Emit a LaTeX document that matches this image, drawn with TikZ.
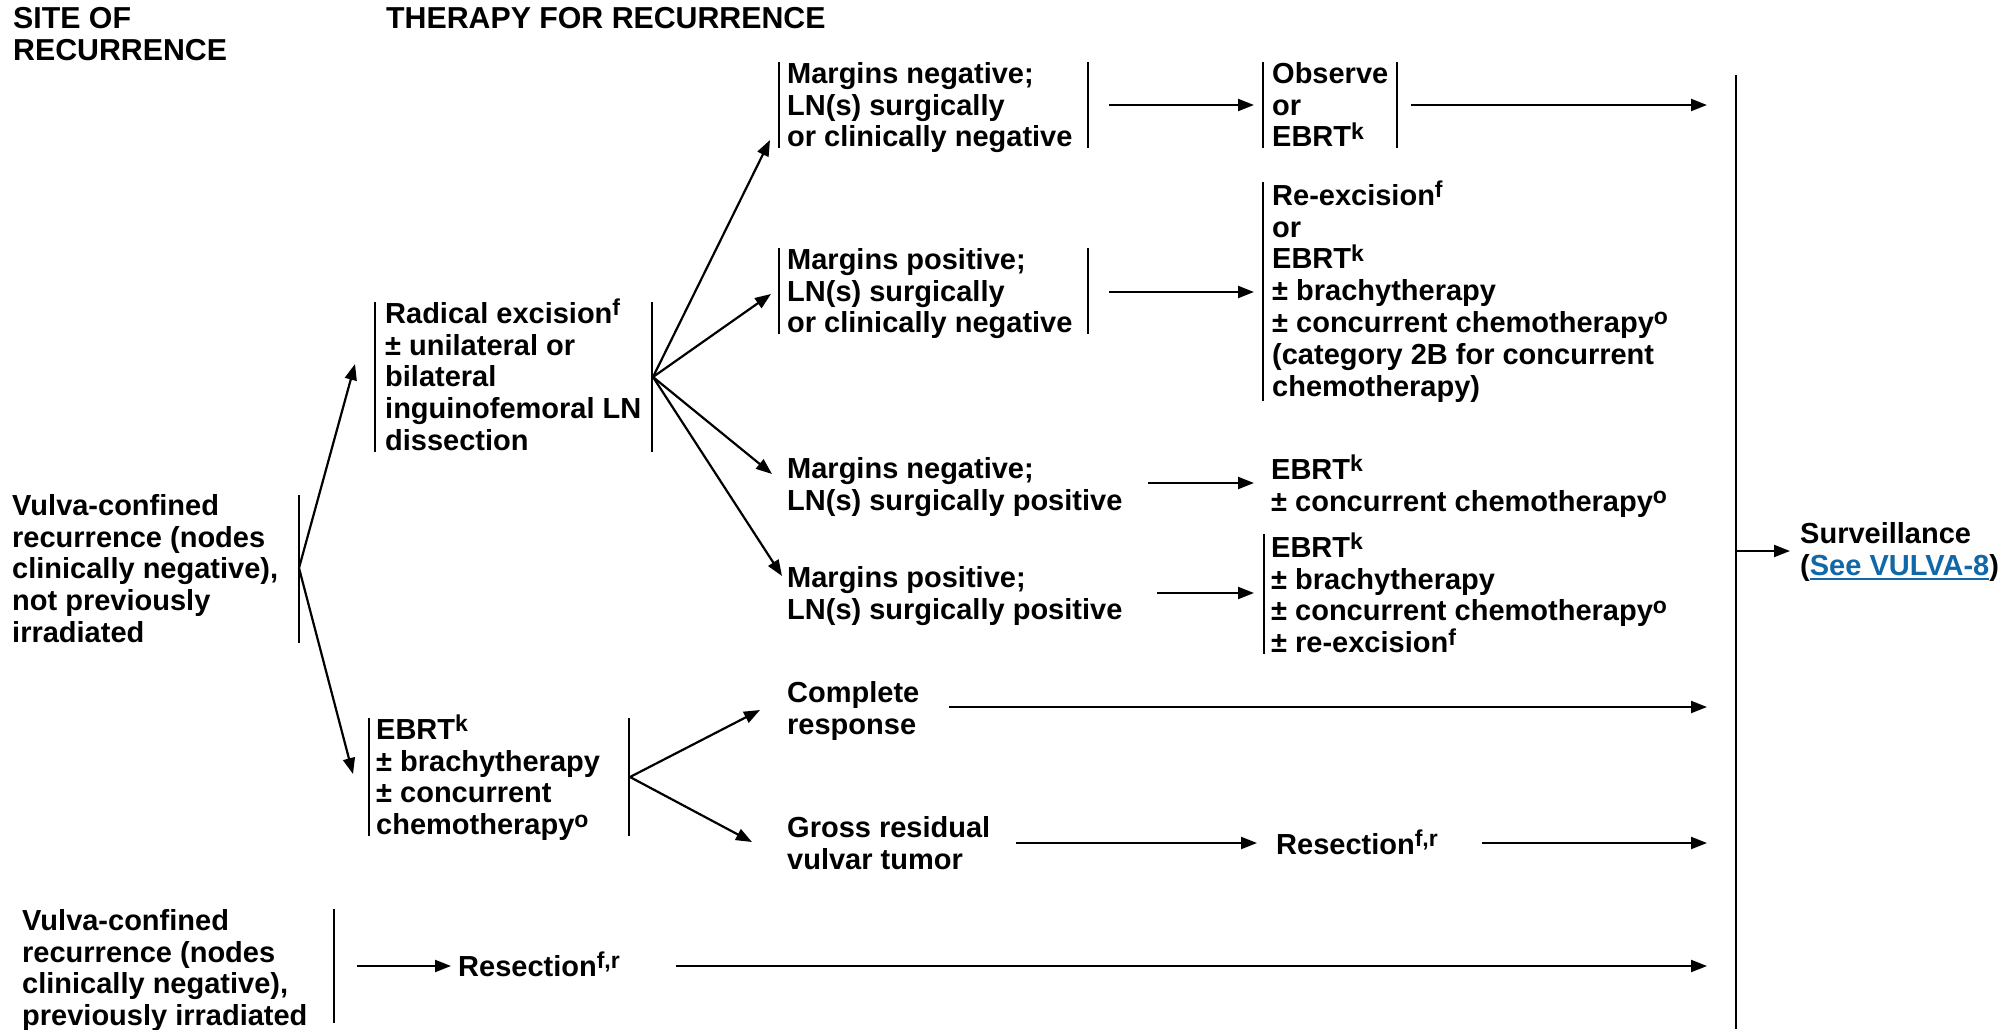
\documentclass[tikz,border=0pt]{standalone}
\usepackage{fontspec}
\setmainfont{Liberation Sans}
\usetikzlibrary{arrows.meta}
\definecolor{linkblue}{RGB}{16,104,168}
% footnote letters set as small raised text
\newcommand\sps[1]{\raisebox{7.5pt}{\fontsize{23}{23}\selectfont #1}}
% fixed height of the first line so every box starts at the same cap line
\newcommand\tstrut{\rule{0pt}{25pt}}
% underlined cross reference
\newcommand\linkul[1]{{\color{linkblue}\setbox0\hbox{#1}\rlap{\rule[-5pt]{\wd0}{2pt}}\box0}}

\begin{document}
\begin{tikzpicture}[x=1pt,y=-1pt,
  txt/.style={anchor=north west, inner sep=0pt, align=left,
              font=\fontsize{29}{31.8}\selectfont\bfseries},
  head/.style={anchor=north west, inner sep=0pt, align=left,
              font=\fontsize{30.3}{32}\selectfont\bfseries},
  brk/.style={line width=2.2pt},
  arr/.style={line width=2.2pt, -{Triangle[length=16pt,width=12pt]}}]

\useasboundingbox[fill=white] (0,0) rectangle (2011,1029);

% column headings
\node[head] (hsite) at (13,3) {\tstrut SITE OF\\RECURRENCE};
\node[head] (htherapy) at (386,3) {\tstrut THERAPY FOR RECURRENCE};

% site of recurrence
\node[txt] (nA) at (12,490) {\tstrut Vulva-confined\\recurrence (nodes\\clinically negative),\\not previously\\irradiated};
\node[txt] (nB) at (22,905) {\tstrut Vulva-confined\\recurrence (nodes\\clinically negative),\\previously irradiated};

% primary therapy
\node[txt] (nRad) at (385,298) {\tstrut Radical excision\sps{f}\\± unilateral or\\bilateral\\inguinofemoral LN\\dissection};
\node[txt] (nEB) at (376,714) {\tstrut EBRT\sps{k}\\± brachytherapy\\± concurrent\\chemotherapy\sps{o}};

% findings
\node[txt] (nM1) at (787,58) {\tstrut Margins negative;\\LN(s) surgically\\or clinically negative};
\node[txt] (nM2) at (787,244) {\tstrut Margins positive;\\LN(s) surgically\\or clinically negative};
\node[txt] (nM3) at (787,453) {\tstrut Margins negative;\\LN(s) surgically positive};
\node[txt] (nM4) at (787,562) {\tstrut Margins positive;\\LN(s) surgically positive};
\node[txt] (nCR) at (787,677) {\tstrut Complete\\response};
\node[txt] (nGR) at (787,812) {\tstrut Gross residual\\vulvar tumor};

% adjuvant treatment
\node[txt] (nObs) at (1272,58) {\tstrut Observe\\or\\EBRT\sps{k}};
\node[txt] (nRe) at (1272,180) {\tstrut Re-excision\sps{f}\\or\\EBRT\sps{k}\\± brachytherapy\\± concurrent chemotherapy\sps{o}\\(category 2B for concurrent\\chemotherapy)};
\node[txt] (nE3) at (1271,454) {\tstrut EBRT\sps{k}\\± concurrent chemotherapy\sps{o}};
\node[txt] (nE4) at (1271,532) {\tstrut EBRT\sps{k}\\± brachytherapy\\± concurrent chemotherapy\sps{o}\\± re-excision\sps{f}};
\node[txt] (nRes1) at (1276,829) {\tstrut Resection\sps{f,r}};
\node[txt] (nRes2) at (458,951) {\tstrut Resection\sps{f,r}};

% follow-up
\node[txt] (nSurv) at (1800,518) {\tstrut Surveillance\\(\linkul{See VULVA-8})};

% bracket bars
\draw[brk] (299,495) -- (299,643);
\draw[brk] (334,909) -- (334,1023);
\draw[brk] (375,302) -- (375,452);
\draw[brk] (652,302) -- (652,452);
\draw[brk] (369,718) -- (369,836);
\draw[brk] (629,718) -- (629,836);
\draw[brk] (779,62) -- (779,148);
\draw[brk] (1088,62) -- (1088,148);
\draw[brk] (779,248) -- (779,334);
\draw[brk] (1088,248) -- (1088,334);
\draw[brk] (1263,62) -- (1263,148);
\draw[brk] (1397,62) -- (1397,148);
\draw[brk] (1263,182) -- (1263,401);
\draw[brk] (1264,534) -- (1264,654);
\draw[brk] (1736,75) -- (1736,1029);

% connector ports
\coordinate (A-out) at (299,568);
\coordinate (Rad-in) at (355,364);
\coordinate (EB-in) at (353,774);
\coordinate (Rad-out) at (653,377);
\coordinate (M1-in) at (770,140);
\coordinate (M2-in) at (771,294);
\coordinate (M3-in) at (772,474);
\coordinate (M4-in) at (782,576);
\coordinate (EB-out) at (630,777);
\coordinate (CR-in) at (760,710);
\coordinate (GR-in) at (752,842);
\coordinate (M1-out) at (1109,105);
\coordinate (Obs-in) at (1254,105);
\coordinate (Obs-out) at (1411,105);
\coordinate (M2-out) at (1109,292);
\coordinate (Re-in) at (1254,292);
\coordinate (M3-out) at (1148,483);
\coordinate (E3-in) at (1254,483);
\coordinate (M4-out) at (1157,593);
\coordinate (E4-in) at (1254,593);
\coordinate (CR-out) at (949,707);
\coordinate (GR-out) at (1016,843);
\coordinate (Res1-in) at (1257,843);
\coordinate (Res1-out) at (1482,843);
\coordinate (B-out) at (357,966);
\coordinate (Res2-in) at (451,966);
\coordinate (Res2-out) at (676,966);
\coordinate (S-obs) at (1707,105);
\coordinate (S-cr) at (1707,707);
\coordinate (S-res1) at (1707,843);
\coordinate (S-res2) at (1707,966);
\coordinate (S-out) at (1736,551);
\coordinate (Surv-in) at (1790,551);

% connectors
\draw[arr] (A-out) -- (Rad-in);
\draw[arr] (A-out) -- (EB-in);
\draw[arr] (Rad-out) -- (M1-in);
\draw[arr] (Rad-out) -- (M2-in);
\draw[arr] (Rad-out) -- (M3-in);
\draw[arr] (Rad-out) -- (M4-in);
\draw[arr] (EB-out) -- (CR-in);
\draw[arr] (EB-out) -- (GR-in);
\draw[arr] (M1-out) -- (Obs-in);
\draw[arr] (M2-out) -- (Re-in);
\draw[arr] (M3-out) -- (E3-in);
\draw[arr] (M4-out) -- (E4-in);
\draw[arr] (GR-out) -- (Res1-in);
\draw[arr] (B-out) -- (Res2-in);
\draw[arr] (Obs-out) -- (S-obs);
\draw[arr] (CR-out) -- (S-cr);
\draw[arr] (Res1-out) -- (S-res1);
\draw[arr] (Res2-out) -- (S-res2);
\draw[arr] (S-out) -- (Surv-in);
\end{tikzpicture}
\end{document}
